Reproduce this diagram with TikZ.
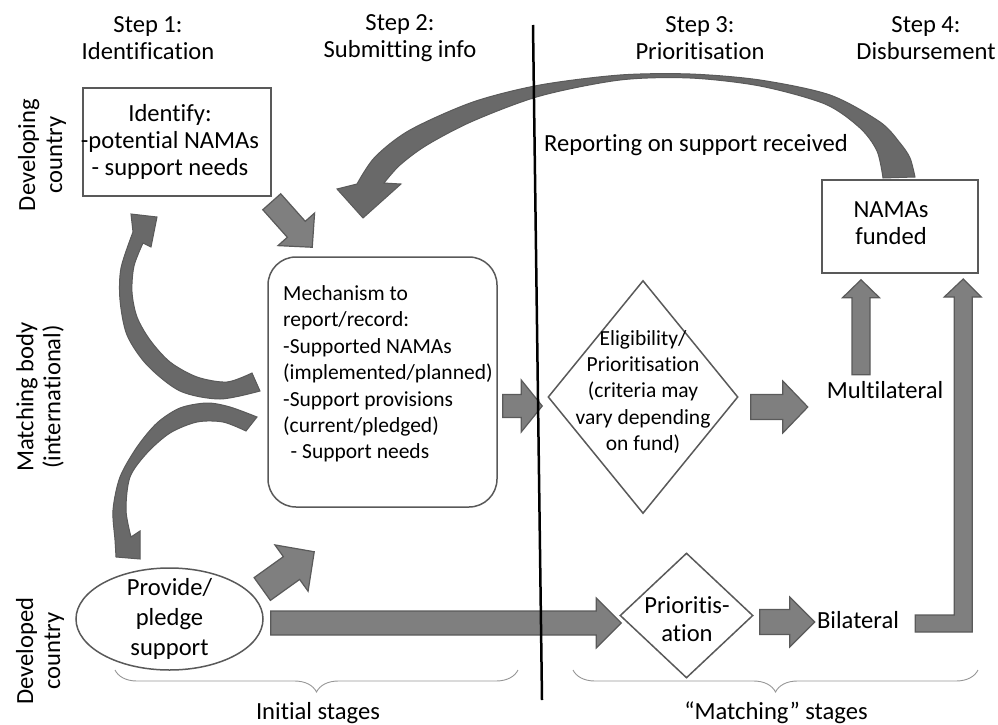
\documentclass[tikz,border=0pt]{standalone}
\usepackage{fontspec}
\setmainfont{Carlito}[Ligatures={TeX,NoCommon}]
\usetikzlibrary{positioning,shapes.geometric,calc,decorations.pathreplacing}

\definecolor{arrfill}{RGB}{127,127,127}
\definecolor{arrline}{RGB}{90,90,90}
\definecolor{curvefill}{RGB}{105,105,105}
\definecolor{boxline}{RGB}{89,89,89}
\definecolor{bracegray}{RGB}{150,150,150}

\newcommand\bigtxt{\fontsize{24.6}{27}\selectfont}
\newcommand\smalltxt{\fontsize{21.5}{26.4}\selectfont}

\tikzset{
  box/.style={draw=boxline, line width=1.5pt},
  blockarr/.style={fill=arrfill, draw=arrline, line width=1.2pt},
  curvearr/.style={fill=curvefill, draw=arrline, line width=1pt},
  % block arrow between two points: half shaft / half head / head length
  fat/.style args={#1/#2/#3}{blockarr, to path={
    ($(\tikztostart)!#1!90:(\tikztotarget)$)
    -- ($($(\tikztotarget)!#3!(\tikztostart)$)!#1!-90:(\tikztostart)$)
    -- ($($(\tikztotarget)!#3!(\tikztostart)$)!#2!-90:(\tikztostart)$)
    -- (\tikztotarget)
    -- ($($(\tikztotarget)!#3!(\tikztostart)$)!#2!90:(\tikztostart)$)
    -- ($($(\tikztotarget)!#3!(\tikztostart)$)!#1!90:(\tikztostart)$)
    -- ($(\tikztostart)!#1!-90:(\tikztotarget)$)
    -- cycle}},
}

\begin{document}
\begin{tikzpicture}[x=1pt, y=-1pt, font=\bigtxt, every node/.style={inner sep=0pt}]
\useasboundingbox (0,0) rectangle (998,725);

% Step headers
\node[align=center] (step1) at (148,38) {Step 1:\\Identification};
\node[align=center] (step2) at (400,38) {Step 2:\\Submitting info};
\node[align=center] (step3) at (700,38) {Step 3:\\Prioritisation};
\node[align=center] (step4) at (926,38) {Step 4:\\Disbursement};

% Row labels
\node[rotate=90, align=center] (row1) at (42,155) {Developing\\country};
\node[rotate=90, align=center] (row2) at (40,397) {Matching body\\(international)};
\node[rotate=90, align=center] (row3) at (40,651) {Developed\\country};

% Boxes
\node[box, minimum width=188, minimum height=108] (ident) at (177,142) {};
\node[align=center] (identtxt) at (170,142) {Identify:\\-potential NAMAs\\- support needs};

\node[box, rounded corners=28, minimum width=229, minimum height=250] (mech) at (382.5,382) {};
\node[font=\smalltxt, align=left, anchor=west] (mechtxt) at (283,374) {Mechanism to\\report/record:\\-Supported NAMAs\\(implemented/planned)\\-Support provisions\\(current/pledged)\\\hspace*{0.35em}- Support needs};

\node[box, ellipse, minimum width=187, minimum height=102] (prov) at (169.5,619) {};
\node[align=center, font=\fontsize{24.6}{30}\selectfont] (provtxt) at (prov.center) {Provide/\\pledge\\support};

\node[box, diamond, minimum width=190, minimum height=233] (elig) at (643,397) {};
\node[font=\smalltxt, align=center] (eligtxt) at (643,392) {Eligibility/\\Prioritisation\\(criteria may\\vary depending\\on fund)};

\node[box, diamond, minimum width=133, minimum height=125] (prio) at (686.5,615.5) {};
\node[align=center, font=\fontsize{24.6}{28}\selectfont] (priotxt) at (687,619) {Prioritis-\\ation};

\node[box, minimum width=156, minimum height=93] (funded) at (900,226.5) {};
\node[align=center] (fundedtxt) at (891,223) {NAMAs\\funded};

\node[minimum width=120, minimum height=30] (multi) at (885,390) {Multilateral};
\node[minimum width=84, minimum height=30] (bilat) at (858,620) {Bilateral};
\node (report) at (696,145) {Reporting on support received};

% Curved arrows
\filldraw[curvearr] (252,373) -- (260,391)
  -- plot[smooth] coordinates {(260,391) (220,399) (180,391) (147,365) (127,335) (120,300) (121,268) (133,232)}
  -- (131,214) -- (157,217) -- (151,247) -- (143,243)
  -- plot[smooth] coordinates {(143,243) (134,266) (132,292) (137,317) (150,340) (170,362) (197,377) (227,382) (252,373)}
  -- cycle;
\filldraw[curvearr] (246,431) -- (257,417)
  -- plot[smooth] coordinates {(257,417) (230,407) (207,403) (180,408) (157,423) (137,447) (120,477) (113,510) (115,540) (116,557)}
  -- (140,559) -- (140,531) -- (131,537)
  -- plot[smooth] coordinates {(131,537) (126,510) (130,477) (147,453) (170,433) (197,422) (223,422) (246,431)}
  -- cycle;
% reporting arc
\filldraw[curvearr] (883,178) -- (915,177)
  -- plot[smooth] coordinates {(915,177) (910,158) (900,143) (880,122) (830,95) (760,80) (690,74) (620,75) (540,85) (473,102) (410,130) (375,157) (357,184)}
  -- (337,189) -- (363,218) -- (401,184) -- (384,183)
  -- plot[smooth] coordinates {(384,183) (400,165) (427,145) (473,121) (540,96) (620,80) (690,78) (760,86) (825,104) (860,128) (877,151) (883,178)}
  -- cycle;

% Block arrows
\draw[fat=12pt/24.5pt/24pt] ($(ident.south east)+(0,5)$) to ($(mech.north west)+(45,-9)$);
\draw[fat=14pt/28.5pt/28pt] ($(prov.east)+(-1.5,-30)$) to ($(mech.south west)+(47,44)$);
\draw[fat=12pt/25pt/25pt] ($(prov.east)+(7,4)$) to ($(prio.west)+(2,7.5)$);
\draw[fat=11.5pt/26pt/21pt] ($(mech.east)+(5,24)$) to ($(elig.west)+(-5,9)$);
\draw[fat=12.5pt/26pt/25pt] ($(elig.east)+(12,10)$) to ($(multi.west)+(-17,17)$);
\draw[fat=12.5pt/25pt/25pt] ($(prio.east)+(6,6.5)$) to ($(bilat.west)+(-1,2)$);
\draw[fat=9pt/18.5pt/18pt] ($(multi.north)+(-24,0)$) to ($(funded.south)+(-39,6)$);
% bilateral to funded
\filldraw[blockarr] ($(bilat.east)+(15,-5)$) -- ++(39,0) -- ++(0,-318) -- ++(-10,0) -- ++(19,-18)
  -- ++(18,18) -- ++(-9,0) -- ++(0,335) -- ++(-57,0) -- cycle;

% Braces
\draw[bracegray, line width=0.9pt, decorate, decoration={brace, amplitude=22pt, aspect=0.5, mirror}] (115,670) -- (518,670);
\draw[bracegray, line width=0.9pt, decorate, decoration={brace, amplitude=22pt, aspect=0.5, mirror}] (573,670) -- (978,670);
\node (initial) at (318,713) {Initial stages};
\node (matching) at (776,713) {``Matching'' stages};

% Divider
\draw[line width=2.5pt] (533,25) -- (542,700);

\end{tikzpicture}
\end{document}
